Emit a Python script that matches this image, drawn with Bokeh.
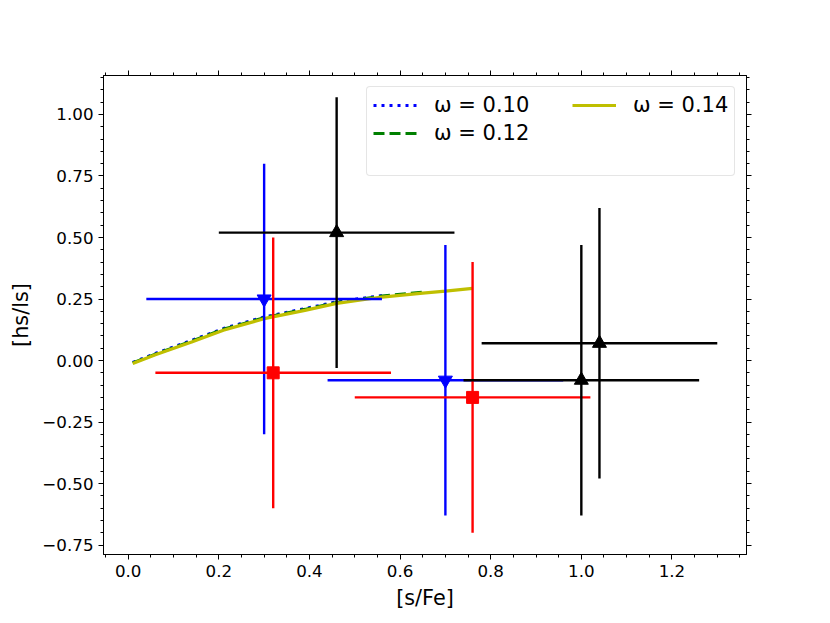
import numpy as np
from bokeh.plotting import figure
from bokeh.models import Legend, LegendItem, LinearAxis, FixedTicker, Range1d
from bokeh.embed import file_html
from bokeh.resources import INLINE

# ---- model curves (omega = 0.10, 0.12, 0.14) ----
x_w010 = [0.01, 0.06, 0.14, 0.21, 0.30, 0.39, 0.46, 0.56]
y_w010 = [-0.008, 0.029, 0.082, 0.130, 0.177, 0.211, 0.239, 0.264]
x_w012 = [0.01, 0.06, 0.14, 0.21, 0.30, 0.39, 0.46, 0.56, 0.65]
y_w012 = [-0.010, 0.026, 0.079, 0.127, 0.174, 0.208, 0.236, 0.262, 0.278]
x_w014 = [0.01, 0.06, 0.14, 0.21, 0.30, 0.39, 0.46, 0.56, 0.65, 0.70, 0.76]
y_w014 = [-0.012, 0.023, 0.075, 0.123, 0.170, 0.204, 0.232, 0.258, 0.274, 0.282, 0.293]
curve_labels = ["ω = 0.10", "ω = 0.12", "ω = 0.14"]

# ---- observations with error bars ----
blue_x = [0.30, 0.70]
blue_y = [0.25, -0.08]
blue_xerr = [0.26, 0.26]
blue_yerr = [0.55, 0.55]

red_x = [0.32, 0.76]
red_y = [-0.05, -0.15]
red_xerr = [0.26, 0.26]
red_yerr = [0.55, 0.55]

black_x = [0.46, 1.00, 1.04]
black_y = [0.52, -0.08, 0.07]
black_xerr = [0.26, 0.26, 0.26]
black_yerr = [0.55, 0.55, 0.55]

# ---- ticks ----
x_ticks = [0.0, 0.2, 0.4, 0.6, 0.8, 1.0, 1.2]
x_tick_labels = ["0.0", "0.2", "0.4", "0.6", "0.8", "1.0", "1.2"]
y_ticks = [-0.75, -0.5, -0.25, 0.0, 0.25, 0.5, 0.75, 1.0]
y_tick_labels = ["\u22120.75", "\u22120.50", "\u22120.25", "0.00", "0.25", "0.50", "0.75", "1.00"]
x_label = "[s/Fe]"
y_label = "[hs/ls]"

FONT = "DejaVu Sans"

p = figure(frame_width=643, frame_height=479,
           x_range=Range1d(-0.0545, 1.3645), y_range=Range1d(-0.7885, 1.1585),
           output_backend="svg", toolbar_location=None,
           min_border_left=103, min_border_right=70, min_border_top=75, min_border_bottom=61)
p.xgrid.visible = False
p.ygrid.visible = False
p.outline_line_color = "black"
p.outline_line_width = 1
p.background_fill_color = "white"
p.border_fill_color = "white"

x_minor = [round(v, 2) for v in np.arange(-0.05, 1.3601, 0.05)]
y_minor = [round(v, 2) for v in np.arange(-0.75, 1.1501, 0.05)]


def style_axis(ax, ticks, minor, labels, show_labels=True):
    ax.ticker = FixedTicker(ticks=ticks, minor_ticks=minor)
    if show_labels:
        ax.major_label_overrides = {t: l for t, l in zip(ticks, labels)}
    else:
        ax.major_label_overrides = {t: "" for t in ticks}
    ax.major_tick_in = 0
    ax.major_tick_out = 5
    ax.minor_tick_in = 0
    ax.minor_tick_out = 3
    ax.axis_line_color = "black"
    ax.major_tick_line_color = "black"
    ax.minor_tick_line_color = "black"
    ax.major_label_text_font = FONT
    ax.major_label_text_font_size = "16.7px"
    ax.major_label_text_color = "black"
    ax.major_label_standoff = 5
    ax.axis_label_text_font = FONT
    ax.axis_label_text_font_size = "20.8px"
    ax.axis_label_text_font_style = "normal"
    ax.axis_label_text_color = "black"
    ax.axis_label_standoff = 6


style_axis(p.xaxis[0], x_ticks, x_minor, x_tick_labels)
style_axis(p.yaxis[0], y_ticks, y_minor, y_tick_labels)
p.xaxis[0].axis_label = x_label
p.yaxis[0].axis_label = y_label

top_ax = LinearAxis()
style_axis(top_ax, x_ticks, x_minor, x_tick_labels, show_labels=False)
p.add_layout(top_ax, "above")
right_ax = LinearAxis()
style_axis(right_ax, y_ticks, y_minor, y_tick_labels, show_labels=False)
p.add_layout(right_ax, "right")

# curves
l1 = p.line(x_w010, y_w010, line_color="blue", line_width=3, line_dash="3 5")
l2 = p.line(x_w012, y_w012, line_color="green", line_width=3, line_dash="11 5")
l3 = p.line(x_w014, y_w014, line_color="#bfbf00", line_width=3.2)
# placeholder renderer for the empty third legend row (draws nothing)
l_blank = p.line([], [], line_alpha=0)


def errbars(xs, ys, xe, ye, color, marker, size):
    xs = np.array(xs); ys = np.array(ys); xe = np.array(xe); ye = np.array(ye)
    p.segment(x0=xs - xe, y0=ys, x1=xs + xe, y1=ys, line_color=color, line_width=2.4)
    p.segment(x0=xs, y0=ys - ye, x1=xs, y1=ys + ye, line_color=color, line_width=2.4)
    p.scatter(xs, ys, marker=marker, size=size, fill_color=color, line_color=color)


errbars(blue_x, blue_y, blue_xerr, blue_yerr, "blue", "inverted_triangle", 14)
errbars(red_x, red_y, red_xerr, red_yerr, "red", "square", 12)
errbars(black_x, black_y, black_xerr, black_yerr, "black", "triangle", 14)


def style_legend(lg):
    lg.label_text_font = FONT
    lg.label_text_font_size = "21px"
    lg.label_text_color = "black"
    lg.glyph_width = 44
    lg.glyph_height = 20
    lg.label_standoff = 17
    lg.spacing = 4
    lg.padding = 6


# first legend column (with the framed box spanning both columns)
legend_a = Legend(items=[LegendItem(label=curve_labels[0], renderers=[l1]),
                         LegendItem(label=curve_labels[1], renderers=[l2]),
                         LegendItem(label="", renderers=[l_blank])],
                  location="top_right")
style_legend(legend_a)
legend_a.label_width = 294
legend_a.margin = 11
legend_a.border_line_color = "#cccccc"
legend_a.border_line_width = 1
legend_a.background_fill_alpha = 0.8
try:
    legend_a.border_radius = 4
except Exception:
    pass
p.add_layout(legend_a)

# second legend column
legend_b = Legend(items=[LegendItem(label=curve_labels[2], renderers=[l3])],
                  location=(463, 431))
style_legend(legend_b)
legend_b.margin = 0
legend_b.border_line_alpha = 0
legend_b.background_fill_alpha = 0
p.add_layout(legend_b)

open("out.html", "w").write(file_html(p, INLINE))
